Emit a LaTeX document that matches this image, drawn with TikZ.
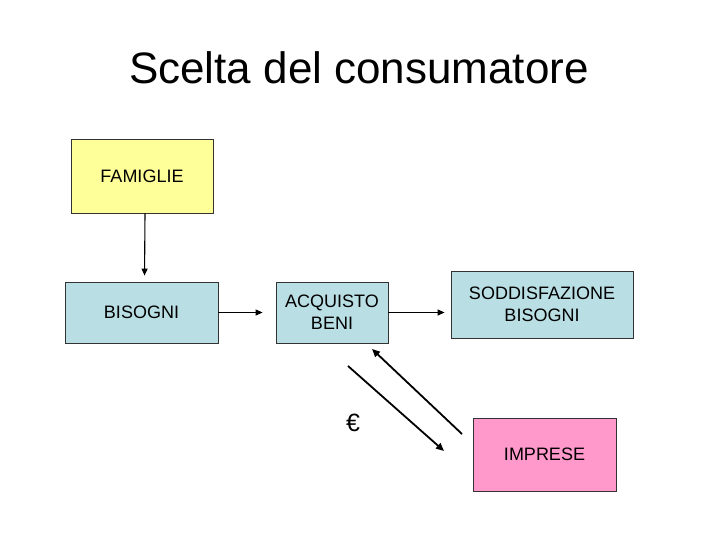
\documentclass[tikz,border=0pt]{standalone}
\usepackage{fontspec}
\setmainfont{Liberation Sans}
\usetikzlibrary{arrows, arrows.meta}
\usetikzlibrary{positioning}

\definecolor{giallo}{HTML}{FFFF99}
\definecolor{azzurro}{HTML}{B9DEE4}
\definecolor{rosa}{HTML}{FF99CC}

\tikzset{
  casella/.style={draw=black!80, line width=0.8pt, align=center, inner sep=2pt,
                  font=\fontsize{18}{21.6}\selectfont},
  freccia/.style={-{Triangle[length=7pt,width=6pt]}, line width=1.1pt},
  scambio/.style={-{Triangle[length=8pt,width=7pt]}, line width=1.8pt}
}

\begin{document}
\begin{tikzpicture}[x=1pt, y=-1pt]
\useasboundingbox (0,0) rectangle (720,540);
\node (titolo) at (359,68) {\fontsize{44}{52}\selectfont Scelta del consumatore}; %titolo

\node[casella, fill=giallo, minimum width=142pt, minimum height=74pt] (famiglie) at (142,176) {FAMIGLIE};
\node[casella, fill=azzurro, minimum width=153pt, minimum height=61pt] (bisogni) at (141.5,312.5) {BISOGNI};
\node[casella, fill=azzurro, minimum width=112pt, minimum height=61pt] (acquisto) at (332,312.5) {ACQUISTO\\BENI};
\node[casella, fill=azzurro, minimum width=182pt, minimum height=67pt] (soddisfazione) at (542,304.5) {SODDISFAZIONE\\BISOGNI};
\node[casella, fill=rosa, minimum width=143pt, minimum height=73pt] (imprese) at (544.5,454.5) {IMPRESE};
\node[font=\fontsize{25}{30}\selectfont] (euro) at (353,423) {€}; %moneta

\draw[freccia, shorten >=6pt] ([xshift=3pt]famiglie.south)--([xshift=3pt]bisogni.north) ;
\draw[freccia, shorten >=13pt] (bisogni.east)--(acquisto.west) ;
\draw[freccia, shorten >=6pt] (acquisto.east)--(acquisto.east -| soddisfazione.west) ;

% beni e denaro
\coordinate (beniA) at (462,434);
\coordinate (beniB) at (372,349);
\coordinate (soldiA) at (348,366);
\coordinate (soldiB) at (444,451);
\draw[scambio] (beniA)--(beniB) ;
\draw[scambio] (soldiA)--(soldiB) ;
\end{tikzpicture}
\end{document}
